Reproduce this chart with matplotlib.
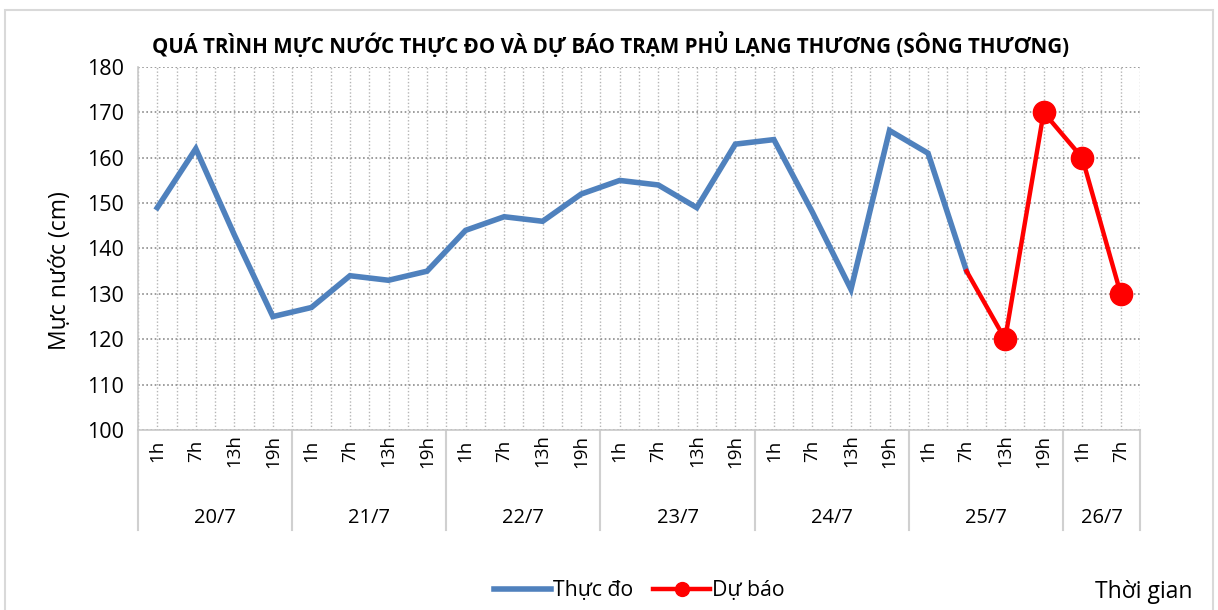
import numpy as np
import matplotlib.pyplot as plt
from matplotlib.patches import Rectangle
from matplotlib.lines import Line2D
import matplotlib.transforms as mtransforms

plt.rcParams['font.family'] = ['Open Sans', 'DejaVu Sans']

days = ['20/7', '21/7', '22/7', '23/7', '24/7', '25/7', '26/7']
hours_per_day = [['1h', '7h', '13h', '19h']] * 6 + [['1h', '7h']]
hour_labels = [h for d in hours_per_day for h in d]

# thuc do (observed), 20/7 1h -> 25/7 7h
observed = [149, 162, 143, 125,
            127, 134, 133, 135,
            144, 147, 146, 152,
            155, 154, 149, 163,
            164, 148, 131, 166,
            161, 135]
# du bao (forecast), 25/7 7h -> 26/7 7h
forecast = [135, 120, 170, 160, 130]

x_all = np.arange(len(hour_labels))
x_obs = x_all[:len(observed)]
x_fc = x_all[len(observed) - 1:]

fig = plt.figure(figsize=(12.18, 6.10), dpi=100)
ax = fig.add_axes([138 / 1218, 1 - 430 / 610, 1002 / 1218, 363 / 610])

ax.plot(x_obs, observed, color='#4f81bd', lw=4.0, solid_joinstyle='miter', zorder=3)
ax.plot(x_fc, forecast, color='#ff0000', lw=3.2, marker='o', markersize=16,
        markevery=list(range(1, len(forecast))), zorder=4)

ax.set_xlim(-0.5, len(hour_labels) - 0.5)
ax.set_ylim(100, 180)
ax.set_yticks(np.arange(100, 181, 10))
ax.set_xticks(np.arange(-0.5, len(hour_labels), 0.5))
ax.set_xticklabels([])
ax.tick_params(axis='x', length=0)
ax.tick_params(axis='y', length=0, labelsize=15.5, pad=10)

ax.grid(axis='y', color='#8c8c8c', linestyle=(0, (1, 1.5)), lw=1.2)
ax.grid(axis='x', color='#b5b5b5', linestyle=(0, (1, 1.5)), lw=1.0)
ax.set_axisbelow(True)
for s in ['top', 'right']:
    ax.spines[s].set_visible(False)
for s in ['left', 'bottom']:
    ax.spines[s].set_color('#c8c8c8')
    ax.spines[s].set_linewidth(1.2)

trans = mtransforms.blended_transform_factory(ax.transData, ax.transAxes)
for i, h in enumerate(hour_labels):
    ax.text(i, -0.058, h, rotation=90, ha='center', va='center', fontsize=13.5,
            transform=trans)

start = 0
bounds = [-0.5]
for d, hrs in zip(days, hours_per_day):
    n = len(hrs)
    ax.text(start + (n - 1) / 2, -0.242, d, ha='center', va='center', fontsize=14.5,
            transform=trans)
    start += n
    bounds.append(start - 0.5)
for b in bounds:
    ax.add_line(Line2D([b, b], [0, -0.275], color='#d0d0d0', lw=1.5,
                       transform=trans, clip_on=False))

ax.set_ylabel('Mực nước (cm)', fontsize=16.5)
ax.yaxis.set_label_coords(-0.066, 0.44)
ax.set_title('QUÁ TRÌNH MỰC NƯỚC THỰC ĐO VÀ DỰ BÁO TRẠM PHỦ LẠNG THƯƠNG (SÔNG THƯƠNG)',
             fontsize=14.8, fontweight='bold', pad=10, x=0.472)

handles = [Line2D([], [], color='#4f81bd', lw=4.0),
           Line2D([], [], color='#ff0000', lw=3.2, marker='o', markersize=10)]
fig.legend(handles, ['Thực đo', 'Dự báo'], loc='center', bbox_to_anchor=(0.525, 0.032),
           ncol=2, frameon=False, fontsize=15.3, handlelength=2.7, handletextpad=0.1,
           columnspacing=0.9)
fig.text(1095 / 1218, 0.03, 'Thời gian', fontsize=16.5, va='center', ha='left')

fig.patches.append(Rectangle((5 / 1218, -0.02), 1208 / 1218, 1 - 10 / 610 + 0.02,
                             transform=fig.transFigure, fill=False,
                             edgecolor='#d9d9d9', lw=1.5))

fig.savefig('out.png', dpi=100)
